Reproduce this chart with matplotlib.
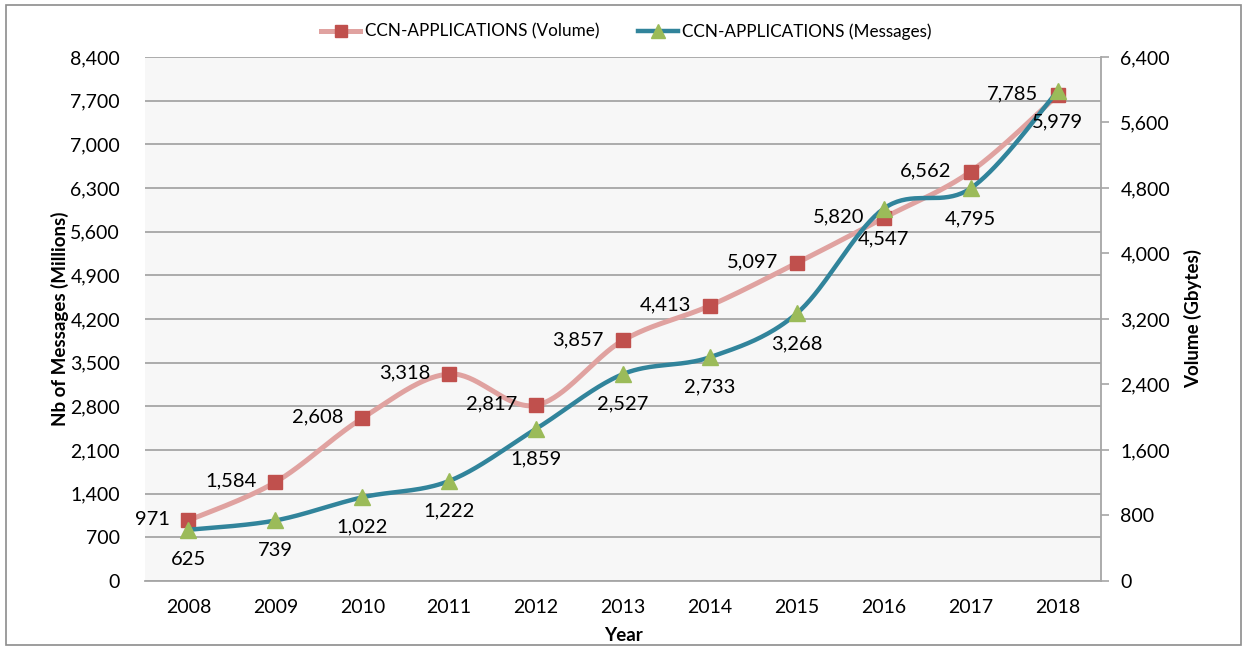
import numpy as np
import matplotlib
matplotlib.use('Agg')
import matplotlib.pyplot as plt
from matplotlib.lines import Line2D
from matplotlib.patches import Rectangle
from matplotlib.ticker import FuncFormatter

plt.rcParams['font.family'] = ['Lato', 'DejaVu Sans']

years = ['2008', '2009', '2010', '2011', '2012', '2013', '2014', '2015', '2016', '2017', '2018']
volume = [971, 1584, 2608, 3318, 2817, 3857, 4413, 5097, 5820, 6562, 7785]
messages = [625, 739, 1022, 1222, 1859, 2527, 2733, 3268, 4547, 4795, 5979]
left_ticks = list(range(0, 8401, 700))
right_ticks = list(range(0, 6401, 800))


def smooth(xs, ys, n=40):
    # excel-ish smoothed line: catmull-rom as cubic bezier segments
    p = np.column_stack([xs, ys]).astype(float)
    p = np.vstack([p[0], p, p[-1]])
    out = []
    t = np.linspace(0, 1, n)[:, None]
    for i in range(1, len(p) - 2):
        p0, p3 = p[i], p[i + 1]
        c1 = p0 + (p[i + 1] - p[i - 1]) / 6
        c2 = p3 - (p[i + 2] - p[i]) / 6
        seg = (1 - t) ** 3 * p0 + 3 * (1 - t) ** 2 * t * c1 + 3 * (1 - t) * t ** 2 * c2 + t ** 3 * p3
        out.append(seg if i == 1 else seg[1:])
    out = np.vstack(out)
    return out[:, 0], out[:, 1]


red, pink = '#C0504D', '#E0A2A0'
green, teal = '#9BBB59', '#31849B'
gridc = '#A6A6A6'
fmt = FuncFormatter(lambda v, _: f'{int(v):,}')

fig = plt.figure(figsize=(12.45, 6.49), dpi=100)
fig.patches.append(Rectangle((0.005, 0.006), 0.992, 0.986, transform=fig.transFigure,
                             fill=False, edgecolor='#8C8C8C', linewidth=1.2))
ax = fig.add_axes([0.1165, 0.1048, 0.7678, 0.8074])
ax2 = ax.twinx()

x = np.arange(len(years))
ax.set_facecolor('#F7F7F7')
ax.set_xlim(-0.5, len(years) - 0.5)
ax.set_ylim(0, 8400)
ax.set_yticks(left_ticks)
ax.yaxis.set_major_formatter(fmt)
ax.grid(axis='y', color=gridc, linewidth=1.3)
ax.set_axisbelow(True)
ax.set_xticks(x)
ax.set_xticklabels(years)
ax.tick_params(axis='both', length=0, labelsize=14, pad=18)
ax.tick_params(axis='x', pad=13)
for s in ('left', 'top', 'right'):
    ax.spines[s].set_visible(False)
ax.spines['bottom'].set_color(gridc)
ax.spines['bottom'].set_linewidth(1.3)

ax2.set_ylim(0, 6400)
ax2.set_yticks(right_ticks)
ax2.yaxis.set_major_formatter(fmt)
ax2.tick_params(axis='y', length=6, width=1.2, color=gridc, labelsize=14, pad=8)
for s in ('left', 'top', 'bottom'):
    ax2.spines[s].set_visible(False)
ax2.spines['right'].set_color(gridc)
ax2.spines['right'].set_linewidth(1.3)

sx, sy = smooth(x, volume)
ax.plot(sx, sy, color=pink, linewidth=3.6, solid_capstyle='round')
ax.plot(x, volume, linestyle='none', marker='s', markersize=10, color=red)
for xi, v in zip(x, volume):
    ax.annotate(f'{v:,}', (xi, v), xytext=(-19, 1), textcoords='offset pixels',
                ha='right', va='center', fontsize=14.5)

sx, sy = smooth(x, messages)
ax2.plot(sx, sy, color=teal, linewidth=3.2, solid_capstyle='round')
ax2.plot(x, messages, linestyle='none', marker='^', markersize=11, color=green)
for xi, v in zip(x, messages):
    ax2.annotate(f'{v:,}', (xi, v), xytext=(0, -30), textcoords='offset pixels',
                 ha='center', va='center', fontsize=14.5)

ax.set_ylabel('Nb of Messages (Millions)', fontsize=13.5, fontweight='bold', labelpad=1)
ax2.set_ylabel('Volume (Gbytes)', fontsize=13.5, fontweight='bold', rotation=90, labelpad=10)
ax.set_xlabel('Year', fontsize=13.5, fontweight='bold', labelpad=8)

handles = [Line2D([], [], color=pink, linewidth=3.6, marker='s', markersize=9, markerfacecolor=red, markeredgecolor=red),
           Line2D([], [], color=teal, linewidth=3.2, marker='^', markersize=10, markerfacecolor=green, markeredgecolor=green)]
fig.legend(handles, ['CCN-APPLICATIONS (Volume)', 'CCN-APPLICATIONS (Messages)'],
           loc='upper center', bbox_to_anchor=(0.503, 0.988), ncol=2, frameon=False,
           fontsize=12.3, handlelength=2.3, columnspacing=2.3, handletextpad=0.25)

fig.savefig('out.png', dpi=100)
